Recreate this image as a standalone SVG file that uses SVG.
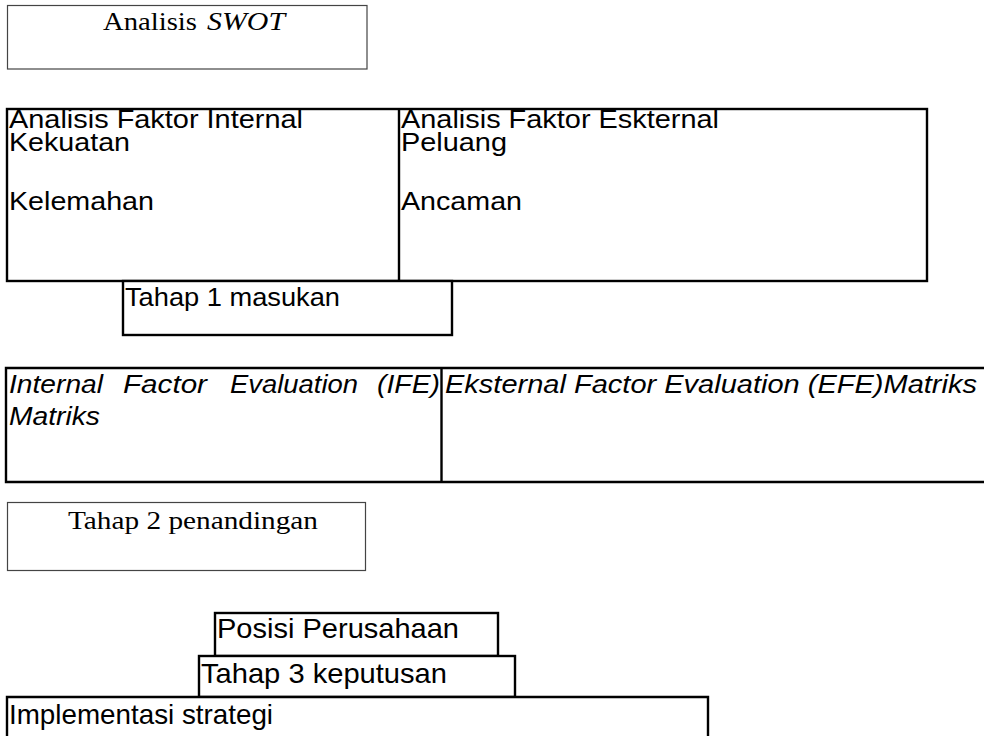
<svg xmlns="http://www.w3.org/2000/svg" width="984" height="736" viewBox="0 0 984 736">
<style>
.thin{fill:#fff;stroke:#444;stroke-width:1.2}
.box{fill:#fff;stroke:#000;stroke-width:2.4}
.ln{stroke:#000;stroke-width:2.4}
.serif{font-family:"Liberation Serif","Times New Roman",serif;font-size:26px;fill:#000}
.sans{font-family:"Liberation Sans",Arial,sans-serif;font-size:25px;fill:#000}
.big{font-family:"Liberation Sans",Arial,sans-serif;font-size:28px;fill:#000}
.it{font-style:italic}
</style>
<rect width="984" height="736" fill="#fff"/>
<g id="connectors"/>
<g id="swot">
<rect class="thin" x="7.5" y="5.5" width="359.5" height="63.5"/>
<text class="serif" x="103" y="30" textLength="94" lengthAdjust="spacingAndGlyphs">Analisis</text>
<text class="serif it" x="207" y="30" textLength="78" lengthAdjust="spacingAndGlyphs">SWOT</text>
</g>
<g id="faktor">
<rect class="box" x="7" y="109" width="920" height="172"/>
<line class="ln" x1="399" y1="109" x2="399" y2="281"/>
<text class="sans" x="9" y="128" textLength="294" lengthAdjust="spacingAndGlyphs">Analisis Faktor Internal</text>
<text class="sans" x="9" y="151" textLength="121" lengthAdjust="spacingAndGlyphs">Kekuatan</text>
<text class="sans" x="9" y="210" textLength="145" lengthAdjust="spacingAndGlyphs">Kelemahan</text>
<text class="sans" x="401" y="128" textLength="318" lengthAdjust="spacingAndGlyphs">Analisis Faktor Eskternal</text>
<text class="sans" x="401" y="151" textLength="106" lengthAdjust="spacingAndGlyphs">Peluang</text>
<text class="sans" x="401" y="210" textLength="121" lengthAdjust="spacingAndGlyphs">Ancaman</text>
</g>
<g id="tahap1">
<rect class="box" x="123" y="281" width="329" height="54"/>
<text class="sans" x="125" y="306" textLength="215" lengthAdjust="spacingAndGlyphs">Tahap 1 masukan</text>
</g>
<g id="matriks">
<path class="box" d="M990 368 H6 V482 H990"/>
<line class="ln" x1="441.5" y1="368" x2="441.5" y2="482"/>
<text class="sans it" x="9" y="393" textLength="94" lengthAdjust="spacingAndGlyphs">Internal</text>
<text class="sans it" x="123" y="393" textLength="84" lengthAdjust="spacingAndGlyphs">Factor</text>
<text class="sans it" x="230" y="393" textLength="128" lengthAdjust="spacingAndGlyphs">Evaluation</text>
<text class="sans it" x="377" y="393" textLength="63" lengthAdjust="spacingAndGlyphs">(IFE)</text>
<text class="sans it" x="9" y="425" textLength="91" lengthAdjust="spacingAndGlyphs">Matriks</text>
<text class="sans it" x="445" y="393" textLength="532" lengthAdjust="spacingAndGlyphs">Eksternal Factor Evaluation (EFE)Matriks</text>
</g>
<g id="tahap2">
<rect class="thin" x="7.5" y="502.5" width="358" height="68"/>
<text class="serif" x="68" y="529" textLength="250" lengthAdjust="spacingAndGlyphs">Tahap 2 penandingan</text>
</g>
<g id="posisi">
<rect class="box" x="215" y="613" width="283" height="43"/>
<text class="big" x="217" y="638" textLength="242" lengthAdjust="spacingAndGlyphs">Posisi Perusahaan</text>
</g>
<g id="tahap3">
<rect class="box" x="199" y="656" width="316" height="41"/>
<text class="big" x="201" y="683" textLength="246" lengthAdjust="spacingAndGlyphs">Tahap 3 keputusan</text>
</g>
<g id="implementasi">
<path class="box" d="M7 745 V697 H708 V745"/>
<text class="big" x="9" y="724" textLength="264" lengthAdjust="spacingAndGlyphs">Implementasi strategi</text>
</g>
</svg>
